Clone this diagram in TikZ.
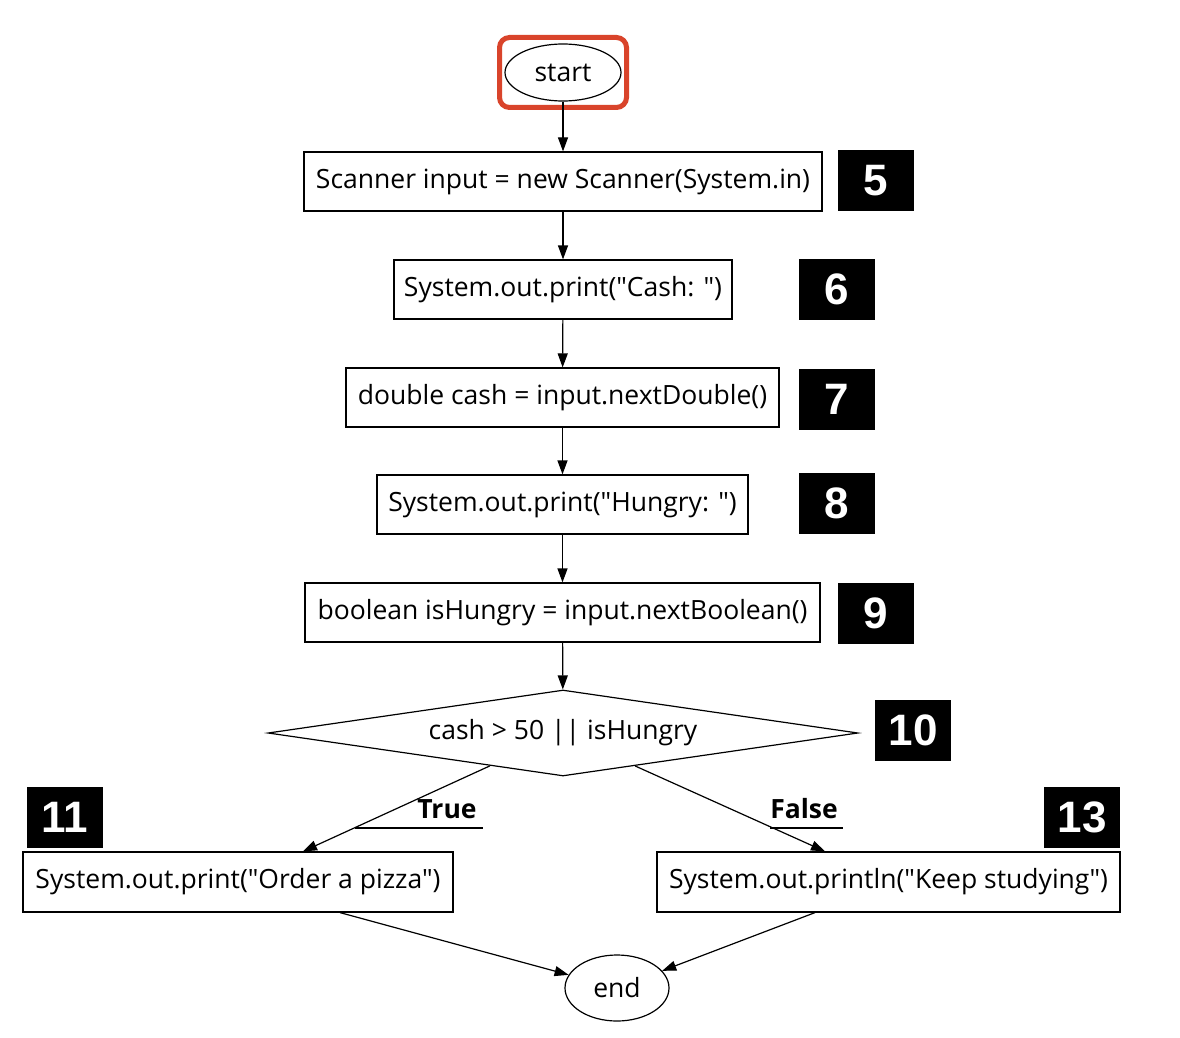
\documentclass[tikz,border=0pt]{standalone}
\usepackage{fontspec}
\setmainfont{Open Sans}[Ligatures=TeXOff]
\newfontfamily\numfont{Liberation Sans}
\usetikzlibrary{shapes.geometric,arrows.meta,calc}
\definecolor{hlred}{HTML}{D9442B}
\begin{document}
\begin{tikzpicture}[x=1pt,y=-1pt,
  every node/.style={font=\fontsize{26.5}{30}\selectfont},
  box/.style={draw,line width=1.2pt,rectangle,inner sep=0pt,minimum height=59pt},
  oval/.style={draw,line width=1.2pt,ellipse,inner sep=0pt},
  num/.style={fill=black,text=white,inner sep=0pt,minimum width=76pt,minimum height=61pt,font=\fontsize{44}{48}\selectfont\numfont\bfseries},
  arr/.style={line width=1.2pt,-{Triangle[length=14pt,width=10pt]}},
  lbl/.style={font=\fontsize{26.5}{30}\selectfont\bfseries}
]
\useasboundingbox (0,0) rectangle (1180,1038);
\node[oval,minimum width=116pt,minimum height=57pt] (start) at (563,72.5) {start};
\node[draw=hlred,line width=5pt,rounded corners=10pt,minimum width=127pt,minimum height=70pt,inner sep=0pt] (hl) at (563,72.5) {};
\node[box,minimum width=518pt] (n5) at (563,181.5) {Scanner input = new Scanner(System.in)};
\node[num] (l5) at (876,180.5) {5};
\node[box,minimum width=338pt] (n6) at (563,289.5) {System.out.print("Cash: ")};
\node[num] (l6) at (837,289.5) {6};
\node[box,minimum width=433pt] (n7) at (562.5,397.5) {double cash = input.nextDouble()};
\node[num] (l7) at (837,399.5) {7};
\node[box,minimum width=371pt] (n8) at (562.5,504.5) {System.out.print("Hungry: ")};
\node[num] (l8) at (837,503.5) {8};
\node[box,minimum width=515pt] (n9) at (562.5,612.5) {boolean isHungry = input.nextBoolean()};
\node[num] (l9) at (876,613) {9};
\node[draw,line width=1.2pt,diamond,aspect=6.86,minimum width=590pt,minimum height=86pt,inner sep=0pt] (d) at (563,733) {cash > 50 || isHungry};
\node[num] (l10) at (913,730.5) {10};
\node[box,minimum width=430pt,minimum height=60pt] (n11) at (238,882) {System.out.print("Order a pizza")};
\node[num] (l11) at (65,817.5) {11};
\node[box,minimum width=463pt,minimum height=60pt] (n13) at (888.5,882) {System.out.println("Keep studying")};
\node[num] (l13) at (1082,817.5) {13};
\node[oval,minimum width=104pt,minimum height=66pt] (end) at (617,988) {end};
\node[lbl] (tl) at (447,809) {True};
\coordinate (tu1) at (355,828);
\coordinate (tu2) at (483,828);
\node[lbl] (fl) at (804,809) {False};
\coordinate (fu1) at (770,828);
\coordinate (fu2) at (843,828);
\draw[line width=1.2pt] (tu1) -- (tu2);
\draw[line width=1.2pt] (fu1) -- (fu2);
\draw[arr] (start) -- (n5);
\draw[arr] (n5) -- (n6);
\draw[arr] (n6) -- (n7);
\draw[arr] (n7) -- (n8);
\draw[arr] (n8) -- (n9);
\draw[arr] (n9) -- (d);
\draw[arr] ($(d.south)!0.247!(d.west)$) -- ([xshift=65pt]n11.north);
\draw[arr] ($(d.south)!0.244!(d.east)$) -- ([xshift=-63.5pt]n13.north);
\draw[arr] ([xshift=102pt]n11.south) -- (end);
\draw[arr] ([xshift=-73.5pt]n13.south) -- (end);
\end{tikzpicture}
\end{document}
